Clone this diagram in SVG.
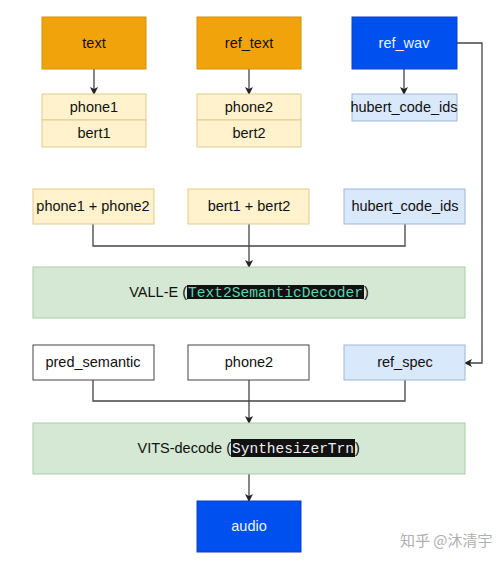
<svg xmlns="http://www.w3.org/2000/svg" width="503" height="561" viewBox="0 0 503 561">
<defs>
<marker id="arr" markerWidth="8" markerHeight="8" refX="7" refY="4" orient="auto" markerUnits="userSpaceOnUse">
<path d="M0,0 L8,4 L0,8 L2,4 Z" fill="#222"/>
</marker>
<style>
text{font-family:"Liberation Sans",Arial,sans-serif;font-size:14.5px;fill:#111}
.orange{fill:#f0a30a;stroke:#d4910a;stroke-width:1}
.yellow{fill:#fff2cc;stroke:#e0cc8a;stroke-width:1}
.lblue{fill:#dae8fc;stroke:#9fb6d8;stroke-width:1}
.blue{fill:#0050ef;stroke:#0a3fc0;stroke-width:1}
.green{fill:#d5e8d4;stroke:#a9cca5;stroke-width:1}
.white{fill:#ffffff;stroke:#444;stroke-width:1}
.wt{fill:#eef3ff}
.c{text-anchor:middle}
.mono{font-family:"Liberation Mono","Courier New",monospace;font-size:14.5px}
.ln{fill:none;stroke:#444;stroke-width:1.3}
</style>
</defs>
<rect width="503" height="561" fill="#ffffff"/>
<g id="connectors">
<path class="ln" d="M94,69 V94" marker-end="url(#arr)"/>
<path class="ln" d="M249,69 V94" marker-end="url(#arr)"/>
<path class="ln" d="M404,69 V94" marker-end="url(#arr)"/>
<path class="ln" d="M457,43 H482 V363 H465" marker-end="url(#arr)"/>
<path class="ln" d="M93,224 V246 H405 V224"/>
<path class="ln" d="M249,224 V267" marker-end="url(#arr)"/>
<path class="ln" d="M93,380 V401 H405 V380"/>
<path class="ln" d="M249,380 V423" marker-end="url(#arr)"/>
<path class="ln" d="M249,474 V501" marker-end="url(#arr)"/>
</g>
<g id="text"><rect class="orange" x="42" y="17" width="104" height="52"/><text class="c" x="94" y="48">text</text></g>
<g id="ref_text"><rect class="orange" x="197" y="17" width="104" height="52"/><text class="c" x="249" y="48">ref_text</text></g>
<g id="ref_wav"><rect class="blue" x="352" y="17" width="105" height="52"/><text class="c wt" x="404" y="48">ref_wav</text></g>
<g id="phone1_bert1"><rect class="yellow" x="42" y="94" width="104" height="26"/><text class="c" x="94" y="112">phone1</text><rect class="yellow" x="42" y="120" width="104" height="27"/><text class="c" x="94" y="138">bert1</text></g>
<g id="phone2_bert2"><rect class="yellow" x="197" y="94" width="104" height="26"/><text class="c" x="249" y="112">phone2</text><rect class="yellow" x="197" y="120" width="104" height="27"/><text class="c" x="249" y="138">bert2</text></g>
<g id="hubert_top"><rect class="lblue" x="352" y="94" width="105" height="27"/><text class="c" x="404" y="112">hubert_code_ids</text></g>
<g id="phone_sum"><rect class="yellow" x="33" y="189" width="121" height="35"/><text class="c" x="93" y="211">phone1 + phone2</text></g>
<g id="bert_sum"><rect class="yellow" x="188" y="189" width="121" height="35"/><text class="c" x="249" y="211">bert1 + bert2</text></g>
<g id="hubert_mid"><rect class="lblue" x="344" y="189" width="121" height="35"/><text class="c" x="405" y="211">hubert_code_ids</text></g>
<g id="valle"><rect class="green" x="33" y="267" width="432" height="51"/>
<text x="187" y="297" text-anchor="end">VALL-E (</text>
<rect x="187" y="285" width="177" height="14" fill="#111"/>
<text class="mono" x="188" y="297" textLength="175" lengthAdjust="spacingAndGlyphs" style="fill:#5fd3b0">Text2SemanticDecoder</text>
<text x="364" y="297">)</text></g>
<g id="pred_semantic"><rect class="white" x="33" y="345" width="121" height="35"/><text class="c" x="93" y="367">pred_semantic</text></g>
<g id="phone2_b"><rect class="white" x="188" y="345" width="121" height="35"/><text class="c" x="249" y="367">phone2</text></g>
<g id="ref_spec"><rect class="lblue" x="344" y="345" width="121" height="35"/><text class="c" x="405" y="367">ref_spec</text></g>
<g id="vits"><rect class="green" x="33" y="423" width="432" height="51"/>
<text x="231" y="453" text-anchor="end">VITS-decode (</text>
<rect x="231" y="439" width="124" height="18" fill="#111"/>
<text class="mono" x="232" y="453" textLength="122" lengthAdjust="spacingAndGlyphs" style="fill:#f0f0f0">SynthesizerTrn</text>
<text x="355" y="453">)</text></g>
<g id="audio"><rect class="blue" x="197" y="501" width="104" height="51"/><text class="c wt" x="249" y="531">audio</text></g>
<text x="400" y="546" style="font-family:'Noto Sans CJK SC','Liberation Sans',sans-serif;font-size:15px;fill:#b0b0b0">知乎 @沐清宇</text>
</svg>
